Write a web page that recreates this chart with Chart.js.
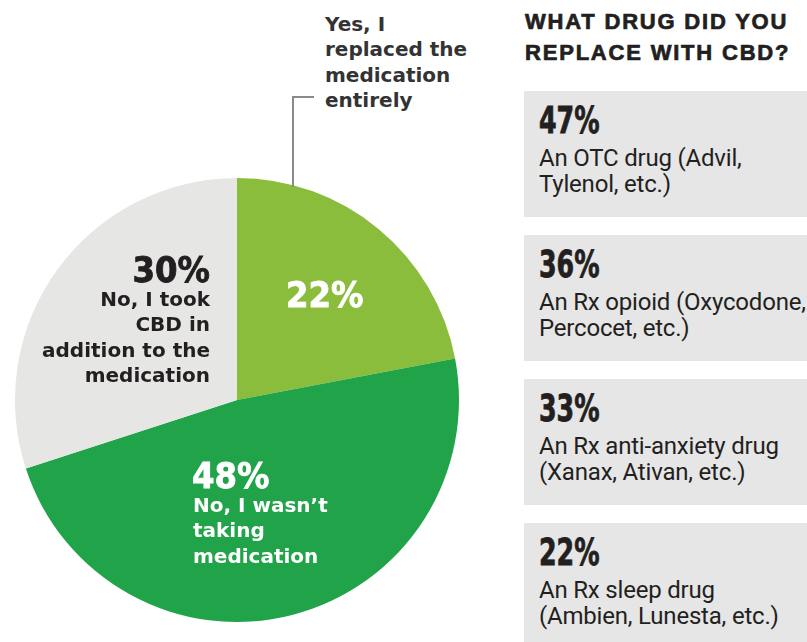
<!DOCTYPE html>
<html>
<head>
<meta charset="utf-8">
<script src="https://cdn.jsdelivr.net/npm/chart.js@4.4.1/dist/chart.umd.min.js"></script>
<style>
    html, body { margin: 0; padding: 0; background: #fff; }
    #page { position: relative; width: 807px; height: 642px; overflow: hidden; color: #231f20; }
    #pieBox { position: absolute; left: 15px; top: 178px; width: 444px; height: 444px; }
    .num { position: absolute; font-family: "DejaVu Sans Condensed", "Liberation Sans Narrow", "DejaVu Sans", sans-serif; font-stretch: condensed; font-weight: bold; font-size: 36px; line-height: 35px; white-space: nowrap; -webkit-text-stroke: 0.8px currentColor; }
    .lbl { position: absolute; font-family: "DejaVu Sans", sans-serif; font-weight: bold; font-size: 20px; line-height: 25.3px; white-space: nowrap; }
    #head { position: absolute; left: 525px; top: 6px; font-family: "Liberation Sans", Arial, sans-serif; font-weight: bold; font-size: 22px; line-height: 31px; letter-spacing: 1.8px; -webkit-text-stroke: 0.7px #231f20; }
    .card { position: absolute; left: 524px; width: 283px; height: 126px; background: #e6e6e6; }
    .card .pct { position: absolute; left: 15px; top: 11px; font-family: "DejaVu Sans Condensed", "DejaVu Sans", sans-serif; font-stretch: condensed; font-weight: bold; font-size: 37px; line-height: 37px; transform: scaleX(0.76); transform-origin: left top; -webkit-text-stroke: 0.8px #231f20; }
    .card .txt { position: absolute; left: 15px; top: 55px; font-family: Roboto, sans-serif; font-size: 24px; line-height: 25.5px; letter-spacing: -0.2px; white-space: nowrap; }
    #leader { position: absolute; left: 292px; top: 96px; width: 20px; height: 89px; border-left: 2px solid #8a8a8a; border-top: 2px solid #8a8a8a; }
</style>
</head>
<body>
<div id="page">
    <div id="pieBox"><canvas id="cbdPie"></canvas></div>
    <div id="leader"></div>

    <div class="lbl" style="left:325px; top:12px; color:#333;">Yes, I<br>replaced the<br>medication<br>entirely</div>
    <div class="num" style="right:597px; top:252px; text-align:right;">30%</div>
    <div class="lbl" style="right:597px; top:287px; text-align:right;">No, I took<br>CBD in<br>addition to the<br>medication</div>
    <div class="num" style="left:286px; top:277px; color:#fff;">22%</div>
    <div class="num" style="left:192px; top:458px; color:#fff;">48%</div>
    <div class="lbl" style="left:193px; top:493px; color:#fff;">No, I wasn’t<br>taking<br>medication</div>

    <div id="head">WHAT DRUG DID YOU<br>REPLACE WITH CBD?</div>
    <div id="cards"></div>
</div>

<script>
// Réponses : avez-vous remplacé un médicament par du CBD ?
const answers = ["Yes, I replaced the medication entirely", "No, I wasn't taking medication", "No, I took CBD in addition to the medication"];
const answerPct = [22, 48, 30];
const answerColors = ["#8bbd3c", "#21a34a", "#e6e6e5"];

// Quel médicament a été remplacé
const drugPct = [47, 36, 33, 22];
const drugLine1 = ["An OTC drug (Advil,", "An Rx opioid (Oxycodone,", "An Rx anti-anxiety drug", "An Rx sleep drug"];
const drugLine2 = ["Tylenol, etc.)", "Percocet, etc.)", "(Xanax, Ativan, etc.)", "(Ambien, Lunesta, etc.)"];

new Chart(document.getElementById("cbdPie"), {
    type: "pie",
    data: {
        labels: answers,
        datasets: [{
            data: answerPct,
            backgroundColor: answerColors,
            borderWidth: 0,
            hoverOffset: 0,
        }],
    },
    options: {
        responsive: true,
        maintainAspectRatio: false,
        animation: false,
        layout: { padding: 0 },
        plugins: {
            legend: { display: false },
            tooltip: { enabled: false },
        },
    },
});

// Cartes grises à droite
const cards = document.getElementById("cards");
drugPct.forEach(function (p, i) {
    const card = document.createElement("div");
    card.className = "card";
    card.style.top = (91 + i * 144) + "px";
    card.innerHTML = '<div class="pct">' + p + '%</div><div class="txt">' + drugLine1[i] + "<br>" + drugLine2[i] + "</div>";
    cards.appendChild(card);
});
</script>
</body>
</html>
